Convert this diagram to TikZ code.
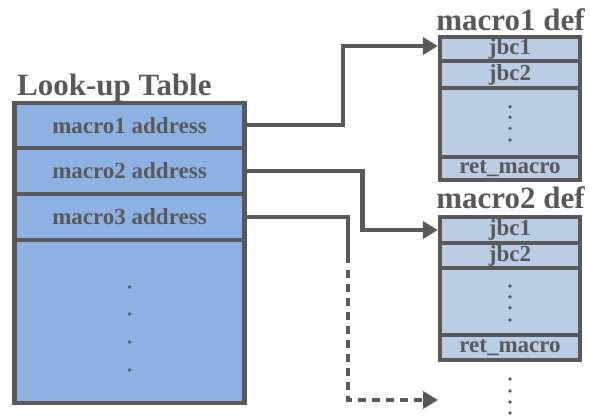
\documentclass[tikz,border=0pt]{standalone}
\usepackage{fontspec}
\setmainfont{Liberation Serif}
\usetikzlibrary{arrows.meta}
\definecolor{ln}{HTML}{595959}
\definecolor{lt}{HTML}{8EB1E3}
\definecolor{rt}{HTML}{BACDE5}
\tikzset{
  lrow/.style={draw=ln, fill=lt, line width=4.3pt, minimum width=230pt, inner sep=0pt, text=ln, font=\bfseries\fontsize{23}{24}\selectfont},
  rrow/.style={draw=ln, fill=rt, line width=4.3pt, minimum width=140pt, inner sep=0pt, text=ln, font=\bfseries\fontsize{23}{24}\selectfont},
  ttl/.style={text=ln, inner sep=0pt, font=\bfseries\fontsize{31}{32}\selectfont},
  conn/.style={draw=ln, line width=4.3pt, -{Triangle[length=15pt,width=17pt]}},
  dashconn/.style={conn, dash pattern=on 8pt off 6pt},
  dotmark/.style={fill=ln, circle, inner sep=0pt, minimum size=3.8pt}
}
\begin{document}
\begin{tikzpicture}[x=1pt,y=-1pt]
\useasboundingbox (0,0) rectangle (590,418);
% left table
\node[lrow, minimum height=163pt] (r4) at (129.5,321.5) {};
\node[lrow, minimum height=46pt] (r3) at (129.5,217) {macro3 address};
\node[lrow, minimum height=46.6pt] (r2) at (129.5,171) {macro2 address};
\node[lrow, minimum height=45pt] (r1) at (129.5,125.2) {macro1 address};
\node[ttl, anchor=base west] (lt) at (17,95) {Look-up Table};
\foreach \y [count=\i] in {287,314,342,370} \node[dotmark] (ld\i) at (129.5,\y) {};
% macro1 def
\node[rrow, minimum height=69pt] (a3) at (510,122.5) {};
\node[rrow, minimum height=23pt] (a4) at (510,168.5) {ret\_macro};
\node[rrow, minimum height=27pt] (a2) at (510,74.5) {jbc2};
\node[rrow, minimum height=24pt] (a1) at (510,49) {jbc1};
\node[ttl, anchor=base] (t1) at (510.5,30) {macro1 def};
\foreach \y [count=\i] in {106.7,117.3,128.3,140} \node[dotmark, minimum size=3.6pt] (ad\i) at (510,\y) {};
% macro2 def
\node[rrow, minimum height=67pt] (b3) at (510,301.5) {};
\node[rrow, minimum height=25pt] (b4) at (510,347.5) {ret\_macro};
\node[rrow, minimum height=25pt] (b2) at (510,255.5) {jbc2};
\node[rrow, minimum height=26pt] (b1) at (510,230) {jbc1};
\node[ttl, anchor=base] (t2) at (510.5,208) {macro2 def};
\foreach \y [count=\i] in {286,296.7,307.7,320} \node[dotmark, minimum size=3.6pt] (bd\i) at (510,\y) {};
\foreach \y [count=\i] in {379,391,402,413} \node[dotmark, minimum size=3.6pt] (cd\i) at (510,\y) {};
% connectors
\coordinate (e1) at ([yshift=3pt]a1.west);
\coordinate (e3) at (438,400);
\draw[conn] (r1.east) -- (343,125.2) |- (e1);
\draw[conn] (r2.east) -- (362.5,171) |- (b1.west);
\draw[draw=ln, line width=4.3pt] (r3.east) -- (348,217) -- (348,263);
\draw[dashconn] (348,270) |- (e3);
\end{tikzpicture}
\end{document}
